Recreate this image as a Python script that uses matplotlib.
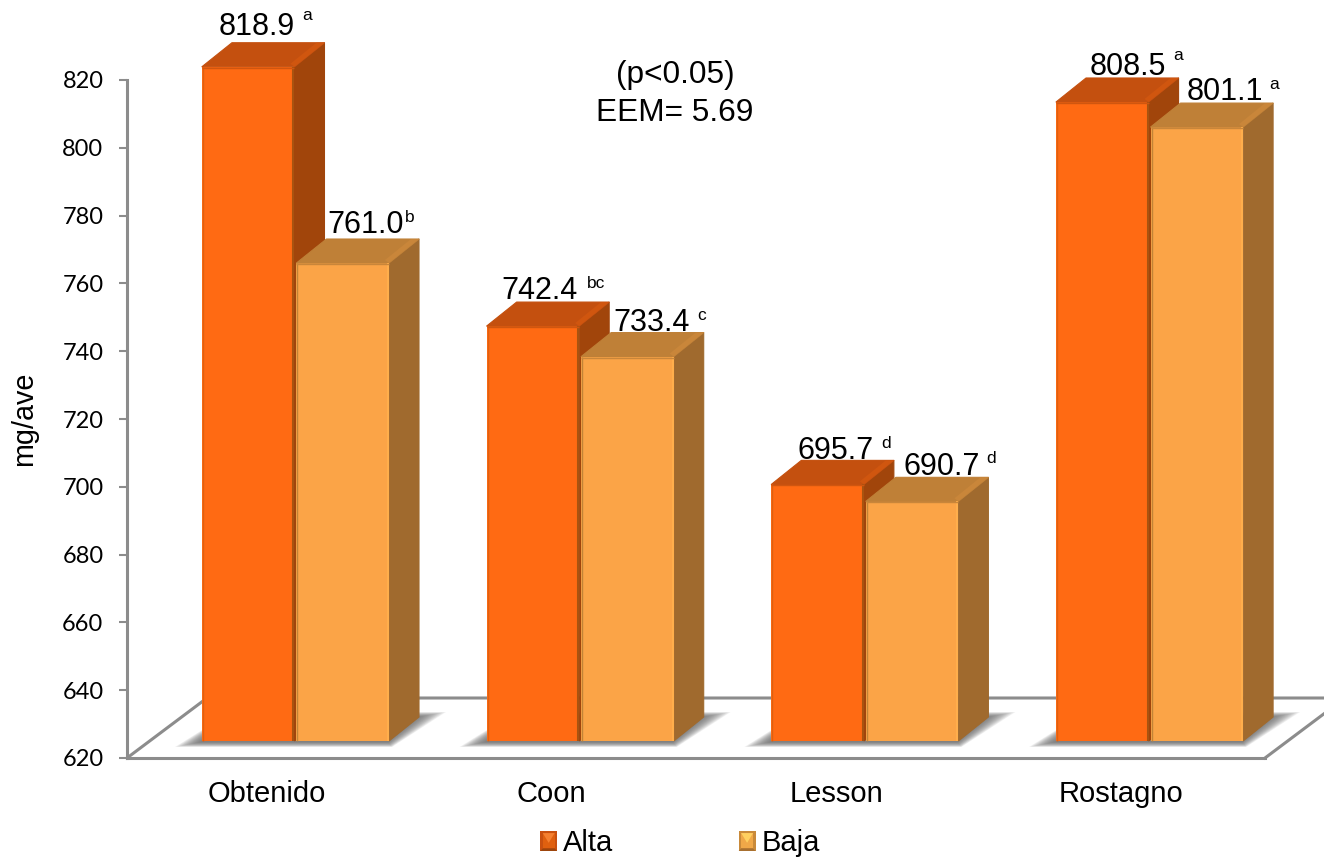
import matplotlib
matplotlib.use("Agg")
import matplotlib.pyplot as plt
from matplotlib.legend_handler import HandlerBase
from matplotlib.patches import Patch, Polygon
from matplotlib.transforms import Affine2D

plt.rcParams['font.family'] = ['Liberation Sans', 'DejaVu Sans']

categorias = ['Obtenido', 'Coon', 'Lesson', 'Rostagno']
alta = [818.9, 742.4, 695.7, 808.5]
baja = [761.0, 733.4, 690.7, 801.1]
letras_alta = ['a', 'bc', 'd', 'a']
letras_baja = ['b', 'c', 'd', 'a']
yticks = [620, 640, 660, 680, 700, 720, 740, 760, 780, 800, 820]

# place of each number above its bar, in pixels
etq_alta = [(9, 40), (7, 35), (18, 33), (26, 35)]
etq_baja = [(23, 38), (24, 34), (30, 34), (28, 35)]
sup_alta = [(50, 11), (56, 8), (50, 8), (50, 11)]
sup_baja = [(44, 8), (50, 7), (49, 9), (49, 8)]

# size of one pixel in data units
PX = 1 / 284.7
PY = 200 / 678
ANCHO = 0.325
DESP = 0.1
PROF_X = 30 * PX
PROF_Y = 24 * PY

fig = plt.figure(figsize=(13.24, 8.59), dpi=100)
ax = fig.add_axes([127 / 1324, 1 - 758 / 859, (1265 - 127) / 1324, 678 / 859])
ax.set_xlim((127 - 267) * PX, (1265 - 267) * PX)
ax.set_ylim(620, 820)

# the bars stand on the floor, a bit above the front edge
frente = Affine2D().translate(DESP, 17 * PY) + ax.transData


def barra(x, v, col, lado, tapa, brillo, borde_izq, borde_der):
    izq = x - ANCHO / 2
    der = x + ANCHO / 2
    ax.bar(x, v - 620, ANCHO, bottom=620, color=col, transform=frente, zorder=5, clip_on=False)
    ax.add_patch(Polygon([(der, 620), (der + PROF_X, 620 + PROF_Y), (der + PROF_X, v + PROF_Y), (der, v)],
                         fc=lado, ec=lado, lw=0.8, transform=frente, zorder=5, clip_on=False))
    ax.add_patch(Polygon([(izq, v), (izq + PROF_X, v + PROF_Y), (der + PROF_X, v + PROF_Y), (der, v)],
                         fc=tapa, ec=tapa, lw=0.8, joinstyle='round', transform=frente, zorder=5, clip_on=False))
    # lighter end of the top
    ax.add_patch(Polygon([(der - 4 * PX, v + 3 * PY), (der + PROF_X - 8 * PX, v + PROF_Y), (der + PROF_X, v + PROF_Y), (der, v)],
                         fc=brillo, ec='none', transform=frente, zorder=5, clip_on=False))
    ax.vlines(izq + PX, 620, v, color=borde_izq, lw=1.0, transform=frente, zorder=6, clip_on=False)
    ax.vlines(der - PX, 620, v, color=borde_der, lw=1.5, transform=frente, zorder=6, clip_on=False)
    ax.hlines(v - PY, izq, der, color=brillo, lw=1.0, transform=frente, zorder=6, clip_on=False)


def sombra(x):
    # stacked transparent shapes give a soft shadow on the floor
    izq = x - ANCHO - 2 * PX
    der = x + ANCHO
    n = 16
    for k in range(n):
        t = 1 - k / (n - 1)
        pts = [(izq - 26 * t * PX, 620 - (1 + 5 * t) * PY),
               (der + 4 * t * PX, 620 - (1 + 5 * t) * PY),
               (der + (30 + 28 * t) * PX, 620 + (24 + 5 * t) * PY),
               (izq + 30 * PX, 620 + (24 + 5 * t) * PY)]
        ax.add_patch(Polygon(pts, fc='#606060', ec='none', alpha=0.085, transform=frente, zorder=3, clip_on=False))


# floor of the chart
gris = '#8c8c8c'
fondo_x = 80 * PX
fondo_y = 60 * PY
x0, x1 = ax.get_xlim()
ax.plot([x0, x0 + fondo_x, x1 + fondo_x, x1], [620, 620 + fondo_y, 620 + fondo_y, 620],
        color=gris, lw=2.2, clip_on=False, zorder=2)

for i in range(len(categorias)):
    sombra(i)
    barra(i - ANCHO / 2 - PX, alta[i], '#ff6a13', '#a1450b', '#c4500f', '#d0560f', '#e0600f', '#a85310')
    barra(i + ANCHO / 2 + PX, baja[i], '#fba447', '#a06a2e', '#bf8037', '#c9863a', '#c28437', '#ffae4c')

    for x, v, letra, e, s in [(i - ANCHO / 2 - PX, alta[i], letras_alta[i], etq_alta[i], sup_alta[i]),
                              (i + ANCHO / 2 + PX, baja[i], letras_baja[i], etq_baja[i], sup_baja[i])]:
        ax.annotate('%.1f' % v, (x, v), xycoords=frente, xytext=e, textcoords='offset pixels',
                    ha='center', va='center', fontsize=22, color='black', zorder=8, annotation_clip=False)
        ax.annotate(letra, (x, v), xycoords=frente, xytext=(e[0] + s[0], e[1] + s[1]), textcoords='offset pixels',
                    ha='center', va='center', fontsize=12.5, color='black', zorder=8, annotation_clip=False)

for lado in ['top', 'right']:
    ax.spines[lado].set_visible(False)
for lado in ['left', 'bottom']:
    ax.spines[lado].set_color(gris)
    ax.spines[lado].set_linewidth(2.2)

ax.set_xticks(range(len(categorias)))
ax.set_xticklabels(categorias, fontsize=21)
ax.tick_params(axis='x', length=0, pad=16)
ax.set_yticks(yticks)
ax.tick_params(axis='y', length=6, width=1.5, color=gris, pad=11)
for t in ax.get_yticklabels():
    t.set_fontfamily('Lato')
    t.set_fontsize(17)
ax.set_ylabel('mg/ave', fontsize=20.7)
ax.yaxis.set_label_coords((38 - 127) / 1138, 0.5)

fig.text(675 / 1324, 1 - 75 / 859, '(p<0.05)', fontsize=22.8, ha='center', va='center')
fig.text(675 / 1324, 1 - 113 / 859, 'EEM= 5.69', fontsize=22.8, ha='center', va='center')


class Cuadro(HandlerBase):
    # small square with bevelled faces
    def create_artists(self, legend, orig, xd, yd, w, h, fontsize, trans):
        c1, c2, c3, c4 = orig.caras
        x0, y0 = -xd, -yd
        m = 0.15 * w
        cx, cy = x0 + w / 2, y0 + h / 2
        sal = []
        for col, pts in [(c1, [(x0, y0), (x0 + w, y0), (x0 + w, y0 + h), (x0, y0 + h)]),
                         (c4, [(x0 + m, y0 + m), (x0 + w - m, y0 + m), (x0 + w - m, y0 + h - m), (x0 + m, y0 + h - m)]),
                         (c2, [(x0 + m, y0 + h - m), (x0 + w - m, y0 + h - m), (cx, cy - 0.1 * h)]),
                         (c3, [(x0, y0), (x0 + w, y0), (x0 + w - m, y0 + m), (x0 + m, y0 + m)])]:
            sal.append(Polygon(pts, fc=col, ec='none', transform=trans))
        return sal


h1 = Patch(label='Alta')
h1.caras = ('#c9500f', '#f58030', '#9c450d', '#e0600f')
h2 = Patch(label='Baja')
h2.caras = ('#c98a3a', '#ffd060', '#a87030', '#f0a848')
ax.legend(handles=[h1, h2], handler_map={Patch: Cuadro()}, ncol=2, frameon=False, fontsize=21,
          loc='center', bbox_to_anchor=(680 / 1324, 1 - 843 / 859), bbox_transform=fig.transFigure,
          handlelength=0.58, handleheight=0.7, handletextpad=0.2, columnspacing=4.3, borderpad=0, borderaxespad=0)

fig.savefig('out.png', dpi=100)
